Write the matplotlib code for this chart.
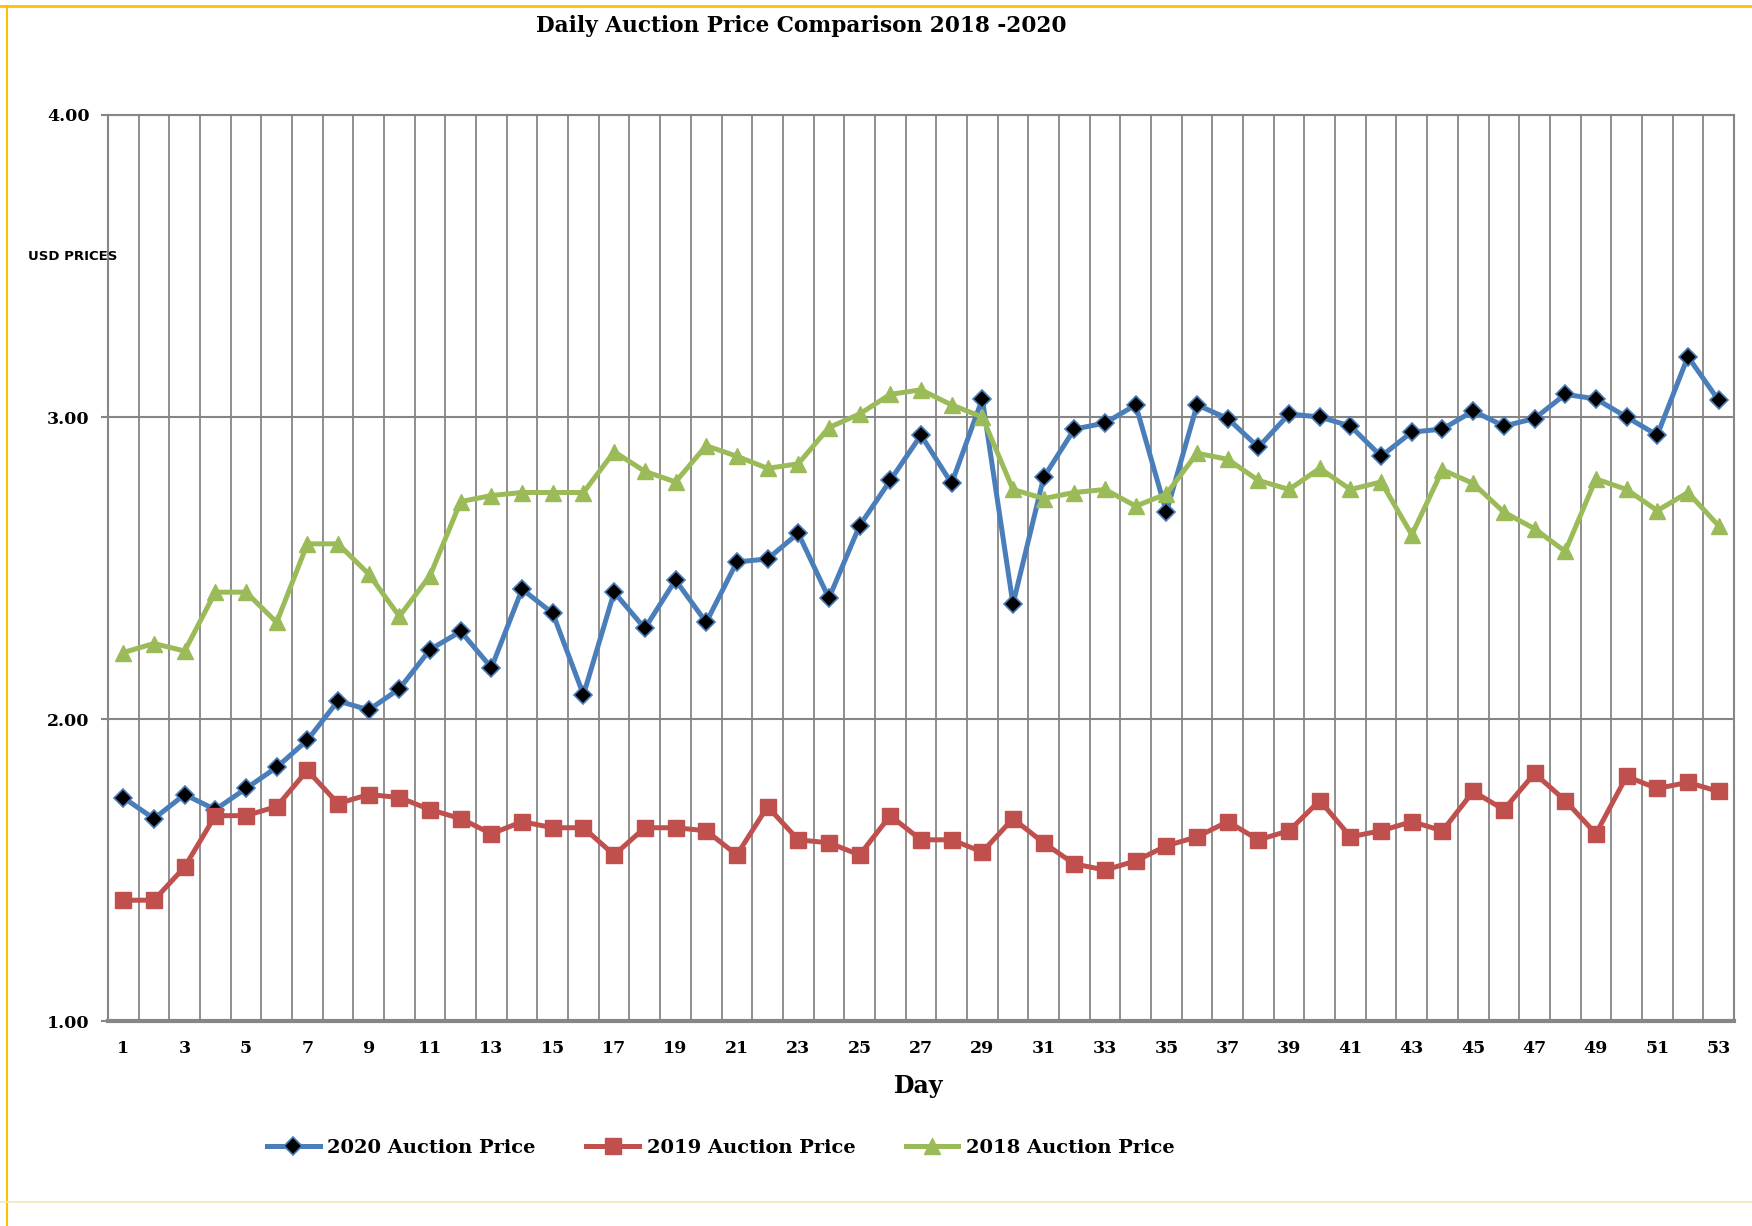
import matplotlib
matplotlib.use("Agg")
import matplotlib.pyplot as plt
from matplotlib.lines import Line2D
import numpy as np

days = list(range(1, 54))

price_2020 = [1.74, 1.67, 1.75, 1.70, 1.77, 1.84, 1.93, 2.06, 2.03, 2.10,
              2.23, 2.29, 2.17, 2.43, 2.35, 2.08, 2.42, 2.30, 2.46, 2.32,
              2.52, 2.53, 2.615, 2.40, 2.64, 2.79, 2.94, 2.78, 3.06, 2.38,
              2.80, 2.96, 2.98, 3.04, 2.685, 3.04, 2.995, 2.90, 3.01, 3.00,
              2.97, 2.87, 2.95, 2.96, 3.02, 2.97, 2.995, 3.075, 3.06, 3.00,
              2.94, 3.20, 3.055]

price_2019 = [1.40, 1.40, 1.51, 1.68, 1.68, 1.71, 1.83, 1.72, 1.75, 1.74,
              1.70, 1.67, 1.62, 1.66, 1.64, 1.64, 1.55, 1.64, 1.64, 1.63,
              1.55, 1.71, 1.60, 1.59, 1.55, 1.68, 1.60, 1.60, 1.56, 1.67,
              1.59, 1.52, 1.50, 1.53, 1.58, 1.61, 1.66, 1.60, 1.63, 1.73,
              1.61, 1.63, 1.66, 1.63, 1.76, 1.70, 1.82, 1.73, 1.62, 1.81,
              1.77, 1.79, 1.76]

price_2018 = [2.22, 2.25, 2.225, 2.42, 2.42, 2.32, 2.58, 2.58, 2.48, 2.34,
              2.475, 2.72, 2.74, 2.75, 2.75, 2.75, 2.885, 2.82, 2.785, 2.905,
              2.87, 2.83, 2.845, 2.965, 3.01, 3.075, 3.09, 3.04, 3.00, 2.76,
              2.73, 2.75, 2.76, 2.705, 2.745, 2.88, 2.86, 2.79, 2.76, 2.83,
              2.76, 2.785, 2.61, 2.825, 2.78, 2.685, 2.63, 2.555, 2.795, 2.76,
              2.69, 2.75, 2.64]

y_ticks = [1.0, 2.0, 3.0, 4.0]
x_tick_days = list(range(1, 54, 2))

fig = plt.figure(figsize=(17.52, 12.26), dpi=100)
ax = fig.add_axes([0.0616, 0.1672, 0.9281, 0.739])

grid_col = "#868686"
ax.plot(days, price_2020, color="#4A7EBB", lw=3.6, marker="D", ms=9,
        mfc="black", mec="#4A7EBB", mew=1.2, label="2020 Auction Price", zorder=3)
ax.plot(days, price_2019, color="#C0504D", lw=3.6, marker="s", ms=12,
        mfc="#C0504D", mec="#C0504D", label="2019 Auction Price", zorder=3)
ax.plot(days, price_2018, color="#9BBB59", lw=3.6, marker="^", ms=12,
        mfc="#9BBB59", mec="#9BBB59", label="2018 Auction Price", zorder=3)

ax.set_xlim(0.5, 53.5)
ax.set_ylim(1.0, 4.0)
ax.set_yticks(y_ticks)
ax.set_yticklabels(["%.2f" % v for v in y_ticks])
ax.set_xticks(x_tick_days)
ax.set_xticklabels([str(d) for d in x_tick_days])
ax.set_xticks(np.arange(0.5, 54, 1.0), minor=True)

ax.grid(axis="y", which="major", color=grid_col, lw=1.5)
ax.grid(axis="x", which="minor", color=grid_col, lw=1.3)
ax.set_axisbelow(True)

ax.tick_params(axis="x", which="both", length=0, pad=14)
ax.tick_params(axis="y", which="major", length=5, width=1.5, color=grid_col, pad=8)
for lab in ax.get_xticklabels() + ax.get_yticklabels():
    lab.set_fontfamily("DejaVu Serif")
    lab.set_fontweight("bold")
    lab.set_fontsize(12.5)

for side in ["left", "right", "top"]:
    ax.spines[side].set_color(grid_col)
    ax.spines[side].set_linewidth(1.5)
ax.spines["bottom"].set_color(grid_col)
ax.spines["bottom"].set_linewidth(3)

fig.text(0.4575, 0.979, "Daily Auction Price Comparison 2018 -2020",
         ha="center", va="center", fontsize=15.6, fontweight="bold",
         family="DejaVu Serif")
fig.text(919 / 1752, 1 - 1086 / 1226, "Day", ha="center", va="center",
         fontsize=17, fontweight="bold", family="DejaVu Serif")
fig.text(28 / 1752, 1 - 256 / 1226, "USD PRICES", ha="left", va="center",
         fontsize=9.5, fontweight="bold", family="DejaVu Sans")

leg = fig.legend(loc="center", bbox_to_anchor=(721 / 1752, 1 - 1148 / 1226),
                 ncol=3, frameon=False, handlelength=2.7, handletextpad=0.4,
                 columnspacing=2.6, prop={"family": "DejaVu Serif",
                                          "weight": "bold", "size": 14})

# slide frame lines
fig.add_artist(Line2D([0, 1], [1 - 6 / 1226, 1 - 6 / 1226], color="#FFC000", lw=2))
fig.add_artist(Line2D([7 / 1752, 7 / 1752], [0, 1 - 6 / 1226], color="#FFC000", lw=1.5))
fig.add_artist(Line2D([0, 1], [1 - 1202 / 1226, 1 - 1202 / 1226], color="#F3E7B5", lw=1.2))

fig.savefig("out.png", dpi=100)
